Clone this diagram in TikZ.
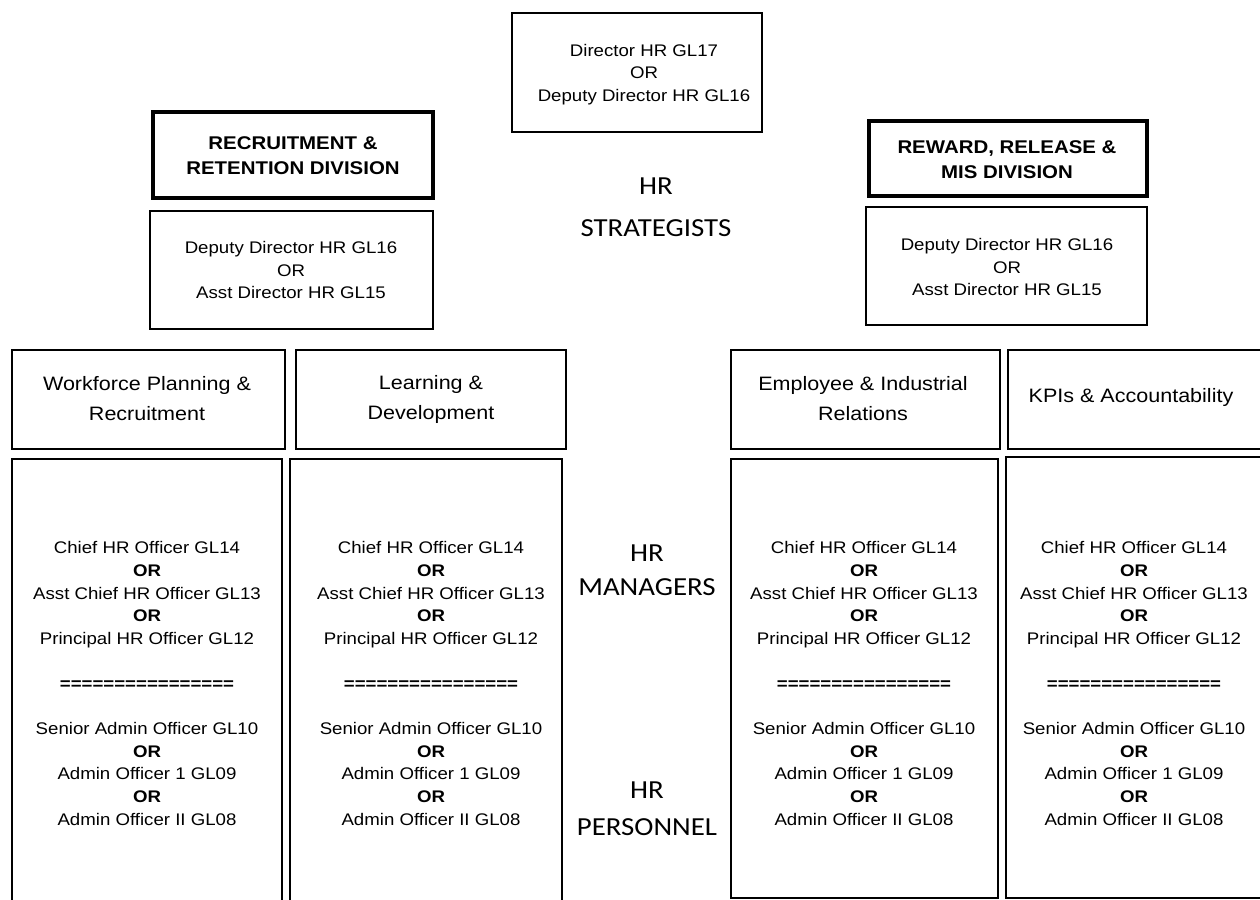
\documentclass[tikz,border=0pt]{standalone}
\usepackage{fontspec}
\setmainfont{Liberation Sans}[FakeStretch=1.11]
\newfontfamily\tierfont{Carlito}[FakeStretch=1.11]
\usetikzlibrary{fit}

% a framed panel given by its two corners
\newcommand\panel[6]{%
  \coordinate (#2-nw) at (#3,#4);
  \coordinate (#2-se) at (#5,#6);
  \node[#1, fit=(#2-nw)(#2-se)] (#2) {};}

\begin{document}
\begin{tikzpicture}[x=0.5pt,y=-0.5pt,
  box/.style={draw=black, rectangle, line width=1pt, inner sep=0pt, outer sep=0pt},
  heavybox/.style={box, line width=1.8pt},
  headbox/.style={box, line width=1.4pt},
  body/.style={align=center, inner sep=0pt, text=black,
    font=\fontsize{8.4}{11.3}\selectfont},
  headtext/.style={align=center, inner sep=0pt, text=black,
    font=\fontsize{9.7}{15}\selectfont},
  divtext/.style={align=center, inner sep=0pt, text=black,
    font=\bfseries\fontsize{9.2}{12.5}\selectfont},
  tier/.style={align=center, inner sep=0pt, text=black}]
\useasboundingbox (0,0) rectangle (1260,900);

% top post
\panel{box}{top}{512}{13}{762}{132}
\node[body] (top-t) at (644,74.5) {Director HR GL17\\OR\\Deputy Director HR GL16};

% divisions
\panel{heavybox}{recdiv}{153}{112}{433}{198}
\node[divtext] (recdiv-t) at (293,155.5) {RECRUITMENT \&\\RETENTION DIVISION};
\panel{box}{depL}{150}{211}{433}{329}
\node[body] (depL-t) at (291,270) {Deputy Director HR GL16\\OR\\Asst Director HR GL15};

\panel{heavybox}{rewdiv}{869}{121}{1147}{196}
\node[divtext] (rewdiv-t) at (1007,159.5) {REWARD, RELEASE \&\\MIS DIVISION};
\panel{box}{depR}{866}{207}{1147}{325}
\node[body] (depR-t) at (1007,267) {Deputy Director HR GL16\\OR\\Asst Director HR GL15};

% tier labels
\node[tier, font=\tierfont\fontsize{13}{21}\selectfont] (strat) at (656,207) {HR\\STRATEGISTS};
\node[tier, font=\tierfont\fontsize{13}{17}\selectfont] (mgr) at (647,570) {HR\\MANAGERS};
\node[tier, font=\tierfont\fontsize{13}{18.5}\selectfont] (pers) at (647,808.5) {HR\\PERSONNEL};

% unit headers
\panel{headbox}{wf}{12}{350}{285}{449}
\node[headtext] (wf-t) at (147,399) {Workforce Planning \&\\Recruitment};
\panel{headbox}{ld}{296}{350}{566}{449}
\node[headtext] (ld-t) at (431,399) {Learning \&\\Development};
\panel{headbox}{er}{731}{350}{1000}{449}
\node[headtext] (er-t) at (863,399) {Employee \& Industrial\\Relations};
\panel{headbox}{kpi}{1008}{350}{1268}{449}
\node[headtext] (kpi-t) at (1131,397) {KPIs \& Accountability};

% staff panels
\newcommand\staff{Chief HR Officer GL14\\\textbf{OR}\\Asst Chief HR Officer GL13\\\textbf{OR}\\Principal HR Officer GL12\\[11.3pt]
  \textbf{================}\\[11.3pt]
  Senior Admin Officer GL10\\\textbf{OR}\\Admin Officer 1 GL09\\\textbf{OR}\\Admin Officer II GL08}
\panel{box}{s1}{12}{459}{282}{906}
\node[body] (s1-t) at (147,683.5) {\staff};
\panel{box}{s2}{290}{459}{562}{906}
\node[body] (s2-t) at (431,683.5) {\staff};
\panel{box}{s3}{731}{459}{998}{898}
\node[body] (s3-t) at (864,683.5) {\staff};
\panel{box}{s4}{1006}{457}{1270}{898}
\node[body] (s4-t) at (1134,683.5) {\staff};
\end{tikzpicture}
\end{document}
